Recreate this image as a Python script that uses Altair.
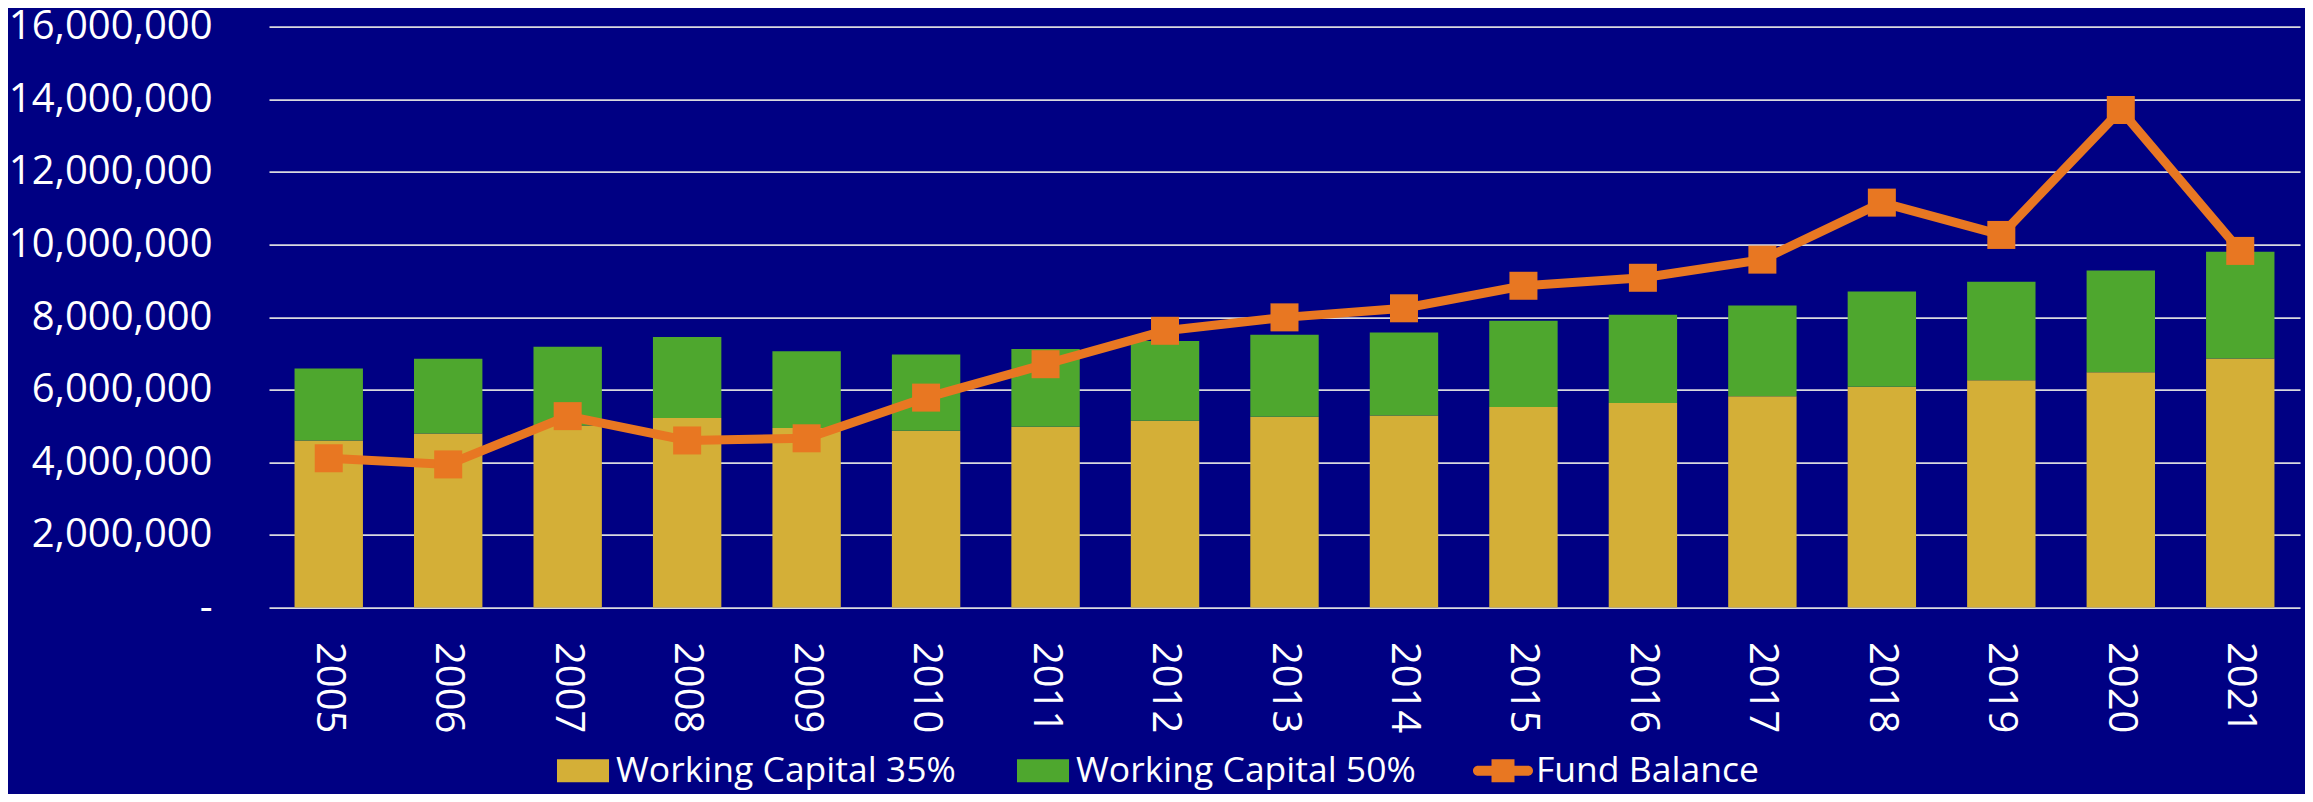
import altair as alt
import pandas as pd

# ---- data (values in dollars) ----
years = [str(y) for y in range(2005, 2022)]
wc35 = [4.60, 4.79, 5.01, 5.22, 4.94, 4.87, 4.98, 5.14, 5.25, 5.29, 5.52, 5.63, 5.82, 6.08, 6.26, 6.48, 6.86]
wc50 = [6.58, 6.85, 7.18, 7.45, 7.06, 6.97, 7.12, 7.34, 7.51, 7.57, 7.90, 8.06, 8.32, 8.70, 8.97, 9.28, 9.80]
fund = [4.11, 3.94, 5.27, 4.60, 4.66, 5.78, 6.70, 7.62, 7.99, 8.24, 8.86, 9.08, 9.58, 11.15, 10.26, 13.70, 9.82]
series_names = ["Working Capital 35%", "Working Capital 50%", "Fund Balance"]
y_ticks = [0, 2e6, 4e6, 6e6, 8e6, 10e6, 12e6, 14e6, 16e6]

GOLD = "#D4AF37"
GREEN = "#4EA72E"
ORANGE = "#E87722"
NAVY = "#000083"
GRID = "#D9D9DE"
FONT = "Open Sans"

rows = []
for yr, a, b in zip(years, wc35, wc50):
    rows.append({"year": yr, "series": series_names[0], "lo": 0.0, "hi": a * 1e6})
    rows.append({"year": yr, "series": series_names[1], "lo": a * 1e6, "hi": b * 1e6})
bar_df = pd.DataFrame(rows)
fund_df = pd.DataFrame({"year": years, "fund": [v * 1e6 for v in fund]})

x_enc = alt.X(
    "year:N",
    sort=years,
    scale=alt.Scale(paddingInner=0.4275, paddingOuter=0.21375),
    axis=alt.Axis(
        title=None, labelAngle=90, labelFont=FONT, labelFontSize=40,
        labelColor="white", labelPadding=34, ticks=False, tickSize=0,
        domain=False, grid=False, labelLimit=0,
    ),
)

y_scale = alt.Scale(domain=[0, 16e6], nice=False, zero=True)

rect_path = "M-0.867,-0.383H0.867V0.383H-0.867Z"
fund_path = ("M-0.833,-0.167H0.833A0.167,0.167 0 0 1 0.833,0.167H-0.833A0.167,0.167 0 0 1 -0.833,-0.167Z"
             "M-0.383,-0.383H0.383V0.383H-0.383Z")

bars = alt.Chart(bar_df).mark_bar().encode(
    x=x_enc,
    y=alt.Y(
        "lo:Q",
        scale=y_scale,
        axis=alt.Axis(
            title=None, values=y_ticks,
            labelExpr="datum.value == 0 ? '-\u00a0\u00a0' : format(datum.value, ',')",
            labelFont=FONT, labelFontSize=40, labelColor="white", labelLimit=0,
            labelPadding=57, ticks=False, tickSize=0, domain=False,
            grid=True, gridColor=GRID, gridWidth=1.75,
        ),
    ),
    y2="hi:Q",
    color=alt.Color(
        "series:N",
        scale=alt.Scale(domain=series_names, range=[GOLD, GREEN, ORANGE]),
        legend=alt.Legend(
            title=None, orient="none", legendX=284, legendY=714,
            direction="horizontal", padding=0,
            labelFont=FONT, labelFontSize=35.5, labelColor="white",
            labelOffset=3, labelLimit=0, columnPadding=57,
            symbolSize=3600, symbolStrokeWidth=0, symbolOpacity=1,
            symbolType={"expr": "datum.value == 'Fund Balance' ? '" + fund_path + "' : '" + rect_path + "'"},
        ),
    ),
)

line = alt.Chart(fund_df).mark_line(color=ORANGE, strokeWidth=9).encode(
    x=alt.X("year:N", sort=years),
    y=alt.Y("fund:Q", scale=y_scale),
)

points = alt.Chart(fund_df).mark_point(
    shape="square", filled=True, size=784, color=ORANGE, opacity=1
).encode(
    x=alt.X("year:N", sort=years),
    y=alt.Y("fund:Q", scale=y_scale),
)

chart = alt.layer(bars, line, points).properties(
    width=2031,
    height=581,
    background=NAVY,
    padding={"left": 261, "top": 18.5, "right": 5, "bottom": 186.5},
    autosize=alt.AutoSizeParams(type="none"),
).configure_view(stroke=None)

chart.save("out.html", embed_options={"renderer": "svg", "actions": False})
